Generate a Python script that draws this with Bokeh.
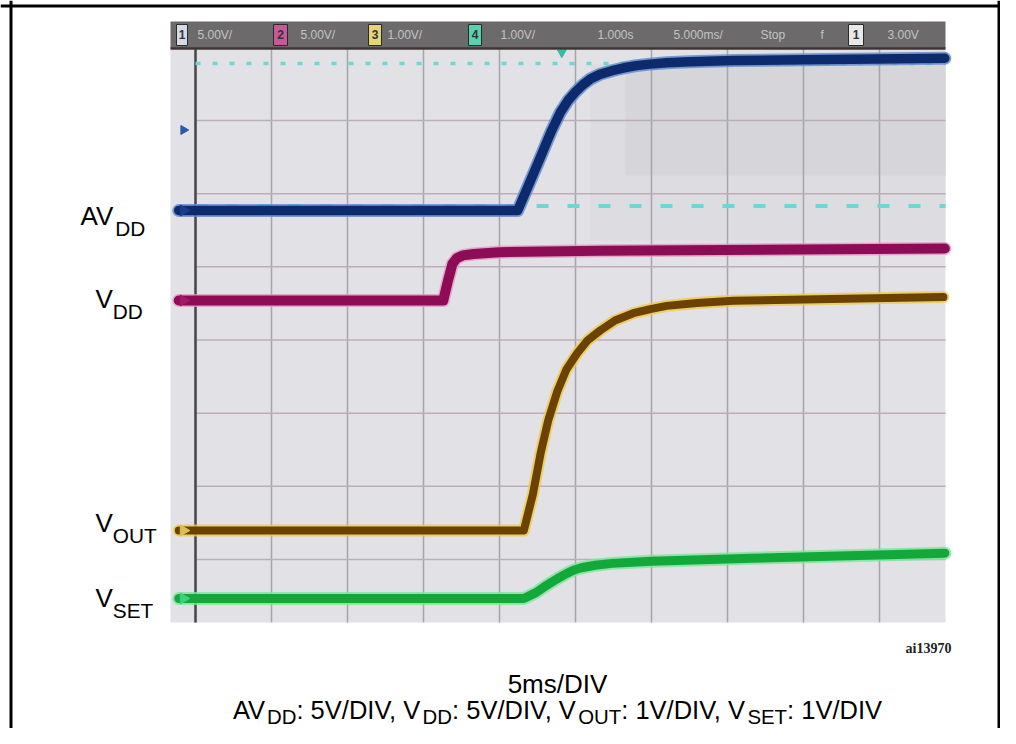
import numpy as np
from bokeh.plotting import figure
from bokeh.models import Range1d, ColumnDataSource, Label, Span
from bokeh.embed import file_html
from bokeh.resources import INLINE

# ---------------- data (oscilloscope capture, 5 ms/div) ----------------
grid_times_ms = [0, 5, 10, 15, 20, 25, 30, 35, 40, 45]
grid_divs = [0, 1, 2, 3, 4, 5, 6]

# channel settings: volts per division and ground level (in divisions)
ch_names = ["AVDD", "VDD", "VOUT", "VSET"]
ch_scale_v = [5.0, 5.0, 1.0, 1.0]
ch_ground_div = [4.77, 3.54, 0.396, -0.533]

# AVDD (ch1, 5 V/div)
avdd_t = [-1.1, 21.2, 21.9, 22.6, 23.4, 24.0, 24.5, 25.0, 25.5, 26.0, 26.6, 27.4, 28.2, 29.0, 29.9, 31.0, 32.5, 35.4, 40.0, 49.3]
avdd_v = [0.0, 0.0, 1.7, 3.4, 5.4, 6.7, 7.5, 8.1, 8.6, 9.0, 9.3, 9.55, 9.75, 9.9, 10.0, 10.1, 10.17, 10.25, 10.3, 10.4]
# VDD (ch2, 5 V/div)
vdd_t = [-1.1, 16.3, 16.6, 16.9, 17.2, 17.6, 18.3, 20.0, 26.6, 49.3]
vdd_v = [0.0, 0.0, 1.3, 2.5, 2.9, 3.08, 3.18, 3.3, 3.4, 3.55]
# VOUT (ch3, 1 V/div)
vout_t = [-1.1, 21.6, 22.2, 22.7, 23.2, 23.8, 24.4, 25.1, 25.8, 26.6, 27.6, 28.8, 30.0, 31.0, 33.0, 35.4, 49.2]
vout_v = [0.0, 0.0, 0.5, 1.05, 1.5, 1.9, 2.2, 2.42, 2.6, 2.73, 2.87, 2.97, 3.03, 3.07, 3.11, 3.14, 3.19]
# VSET (ch4, 1 V/div)
vset_t = [-1.1, 21.6, 22.4, 23.1, 23.8, 24.4, 24.9, 25.4, 26.3, 27.4, 30.0, 36.6, 49.3]
vset_v = [0.0, 0.0, 0.08, 0.18, 0.27, 0.34, 0.39, 0.42, 0.455, 0.48, 0.51, 0.55, 0.62]

# ch1 cursors (V) and ch1 trigger level (V)
cursor_levels_v = [10.05, 0.3]
trigger_level_v = 5.5
trigger_time_ms = 24.1

trace_labels = [("AV", "DD"), ("V", "DD"), ("V", "OUT"), ("V", "SET")]
header_items = ["5.00V/", "5.00V/", "1.00V/", "1.00V/", "1.000s", "5.000ms/", "Stop", "f", "3.00V"]
header_boxes = ["1", "2", "3", "4", "1"]
fig_id = "ai13970"

# ---------------- layout (pixels of the picture) ----------------
W, H = 1000, 728
X0, PXMS = 195.0, 15.2      # t = 0 line and px per ms
Y0, PXDIV = 559.0, 73.17    # 0 div line and px per division
TXT_SHIFT = 0.4             # empirical baseline correction (em)


def xd(px):
    return (px - X0) / PXMS


def yd(py):
    return (Y0 - py) / PXDIV


def yt(base_px, size):
    return yd(base_px - TXT_SHIFT * size)


ybot, ytop = yd(H), yd(0)
p = figure(width=W, height=H, output_backend="svg", toolbar_location=None,
           x_range=Range1d(xd(0), xd(W)),
           y_range=Range1d(ybot, ytop),
           x_axis_location=None, y_axis_location=None, min_border=0)
p.grid.visible = False
p.outline_line_color = None
p.background_fill_color = "white"
p.border_fill_color = "white"

for name, s, g in zip(ch_names, ch_scale_v, ch_ground_div):
    p.extra_y_ranges[name] = Range1d((ybot - g) * s, (ytop - g) * s)

# scope screen
scr_l, scr_r, scr_t, scr_b = xd(170), xd(945), yd(48), yd(622)
p.quad(left=scr_l, right=scr_r, top=scr_t, bottom=scr_b, fill_color="#e2e1e6", line_color=None)
p.quad(left=xd(590), right=scr_r, top=yd(64), bottom=yd(240), fill_color="#dddce1", line_color=None)
p.quad(left=xd(625), right=scr_r, top=yd(64), bottom=yd(175), fill_color="#d6d5da", line_color=None)

# grid
p.segment(x0=grid_times_ms, x1=grid_times_ms, y0=[scr_b] * len(grid_times_ms), y1=[scr_t] * len(grid_times_ms),
          line_color="#a6a4ad", line_width=1.5)
p.segment(x0=[0] * len(grid_divs), x1=[scr_r] * len(grid_divs), y0=grid_divs, y1=grid_divs,
          line_color="#bcaeb6", line_width=1.5)
p.segment(x0=[0], x1=[0], y0=[scr_b], y1=[scr_t], line_color="#47464e", line_width=2.5)

# ch1 cursors
p.segment(x0=[0], x1=[scr_r], y0=[cursor_levels_v[0]], y1=[cursor_levels_v[0]], y_range_name="AVDD",
          line_color="#6fd6d2", line_width=3.5, line_dash="5 12")
p.segment(x0=[0], x1=[scr_r], y0=[cursor_levels_v[1]], y1=[cursor_levels_v[1]], y_range_name="AVDD",
          line_color="#6fd6d2", line_width=4, line_dash="12 19")

# traces
traces = [
    ("AVDD", avdd_t, avdd_v, "#5f88c8", "#0c2a6c", 13, 9.5),
    ("VDD", vdd_t, vdd_v, "#e29ac2", "#8c0d55", 13, 10),
    ("VOUT", vout_t, vout_v, "#efcb4c", "#6c4200", 12, 8),
    ("VSET", vset_t, vset_v, "#80e49c", "#12a83a", 13, 9),
]
for name, t, v, halo, core, hw, cw in traces:
    src = ColumnDataSource(dict(t=t, v=v))
    p.line("t", "v", source=src, y_range_name=name, line_color=halo, line_width=hw,
           line_join="round", line_cap="round", line_alpha=0.8)
    p.line("t", "v", source=src, y_range_name=name, line_color=core, line_width=cw,
           line_join="round", line_cap="round")

# ground markers on the left
marker_cols = ["#1b3c8c", "#a01a66", "#d9c052", "#3fd07e"]
for name, c in zip(ch_names, marker_cols):
    p.scatter([xd(183)], [0], y_range_name=name, marker="triangle", angle=-np.pi / 2,
              size=11, fill_color=c, line_color=c)
p.scatter([xd(183)], [trigger_level_v], y_range_name="AVDD", marker="triangle", angle=-np.pi / 2,
          size=9, fill_color="#2a5aa8", line_color="#2a5aa8")
p.scatter([trigger_time_ms], [yd(52)], marker="inverted_triangle", size=9,
          fill_color="#2fc0a0", line_color="#2fc0a0")

# header bar
p.quad(left=scr_l, right=scr_r, top=yd(21), bottom=yd(48), fill_color="#6d6a6b", line_color=None)
p.segment(x0=[scr_l], x1=[scr_r], y0=[yd(48)], y1=[yd(48)], line_color="#3f3434", line_width=2.5)
hdr_x = [197, 300, 387, 500, 597, 673, 760, 820, 887]
for txt, x in zip(header_items, hdr_x):
    p.add_layout(Label(x=xd(x), y=yt(39, 12), text=txt, text_font="Liberation Sans", text_font_size="12px",
                       text_color="#c4c4c4", text_baseline="alphabetic"))
box_x = [(176, 187), (273, 287), (368, 381), (468, 481), (848, 863)]
box_col = ["#d6dae6", "#c65a98", "#e6d27a", "#5ccfae", "#e8e8e8"]
for lab, (a, b), c in zip(header_boxes, box_x, box_col):
    p.quad(left=xd(a), right=xd(b), top=yd(24), bottom=yd(45), fill_color=c, line_color="#2a2a2a", line_width=1)
    p.add_layout(Label(x=xd((a + b) / 2), y=yt(39, 12), text=lab, text_font="Liberation Sans",
                       text_font_size="12px", text_color="#333333", text_align="center",
                       text_baseline="alphabetic", text_font_style="bold"))

# ---------------- text ----------------
AW = {"A": 667, "V": 667, "D": 722, "O": 778, "U": 722, "T": 611, "S": 667, "E": 667, "I": 278,
      ":": 278, " ": 278, ",": 278, "/": 278, "5": 556, "1": 556, "m": 833, "s": 500}
SUB = 0.8


def tw(s, size):
    return sum(AW.get(c, 556) for c in s) / 1000.0 * size


def rich(parts, x_px, base_px, size, sub_dy, align="left"):
    widths = [tw(s, size * (SUB if sub else 1)) for s, sub in parts]
    x = x_px - (sum(widths) / 2 if align == "center" else 0)
    for (s, sub), w in zip(parts, widths):
        fs = size * (SUB if sub else 1)
        p.add_layout(Label(x=xd(x), y=yt(base_px + (sub_dy if sub else 0), fs), text=s,
                           text_font="Liberation Sans", text_font_size=f"{fs:.1f}px",
                           text_color="black", text_baseline="alphabetic", text_align="left"))
        x += w


left_pos = [(80, 226), (95, 309), (95, 533), (95, 608)]
for (main, sub), (x, b) in zip(trace_labels, left_pos):
    rich([(main, False), (sub, True)], x, b, 26, 10)

rich([("5ms/DIV", False)], 557, 694, 26, 0, align="center")
rich([("AV", False), ("DD", True), (": 5V/DIV, V", False), ("DD", True), (": 5V/DIV, V", False),
      ("OUT", True), (": 1V/DIV, V", False), ("SET", True), (": 1V/DIV", False)], 557, 720, 25.5, 5,
     align="center")

p.add_layout(Label(x=xd(905), y=yt(654, 14), text=fig_id, text_font="Liberation Sans Narrow",
                   text_font_size="14px", text_font_style="bold", text_color="#222222",
                   text_baseline="alphabetic"))

# figure frame
p.add_layout(Span(location=xd(10.5), dimension="height", line_color="black", line_width=3))
p.add_layout(Span(location=xd(998.5), dimension="height", line_color="black", line_width=3))
p.add_layout(Span(location=yd(5.5), dimension="width", line_color="black", line_width=3))

open("out.html", "w").write(file_html(p, INLINE))
